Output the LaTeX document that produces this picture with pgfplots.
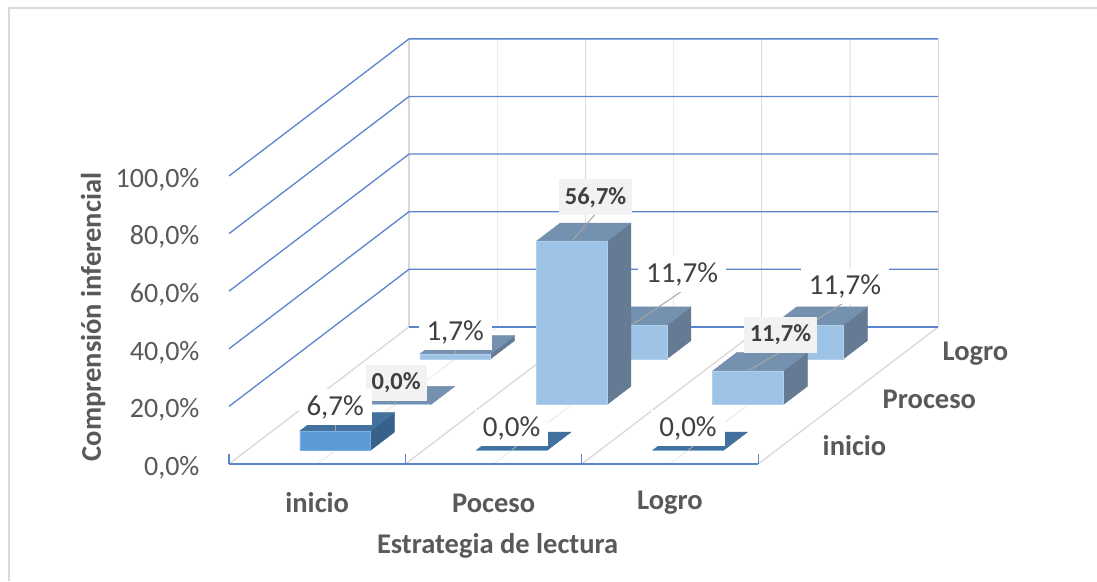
\documentclass[border=0pt]{standalone}
\usepackage{pgfplots}
\pgfplotsset{compat=1.18}
\usepackage{fontspec}
\setmainfont{Carlito}
\definecolor{frontA}{HTML}{5B9BD5}
\definecolor{topA}{HTML}{41719C}
\definecolor{sideA}{HTML}{38618A}
\definecolor{frontB}{HTML}{9DC3E6}
\definecolor{topB}{HTML}{7591B0}
\definecolor{sideB}{HTML}{647B93}
\definecolor{gridblue}{HTML}{5B84CE}
\definecolor{floorgrey}{HTML}{D9D9D9}
\definecolor{faintgrey}{HTML}{EDEDED}
\definecolor{txt}{HTML}{595959}
\definecolor{lab}{HTML}{404040}
\definecolor{leader}{HTML}{A6A6A6}
\definecolor{boxgrey}{HTML}{F2F2F2}
\newcommand{\fnt}{\fontsize{28}{33}\selectfont}
\newcommand{\lfnt}{\fontsize{29}{33}\selectfont}
\newcommand{\bfnt}{\fontsize{28.5}{33}\selectfont\bfseries}
\newcommand{\dfnt}{\fontsize{24.5}{29}\selectfont\bfseries}
% one 3D bar: column x, row y, value v, colours front/top/side
\newcommand{\bbar}[6]{%
  \pgfmathsetmacro{\xa}{#1+0.3}\pgfmathsetmacro{\xb}{#1+0.7}%
  \pgfmathsetmacro{\ya}{#2+0.3}\pgfmathsetmacro{\yb}{#2+0.7}%
  \edef\temp{\noexpand\addplot3[fill=#6,draw=#6,line width=0.5pt,forget plot] coordinates {(\xb,\ya,0)(\xb,\yb,0)(\xb,\yb,#3)(\xb,\ya,#3)(\xb,\ya,0)};
  \noexpand\addplot3[fill=#5,draw=#5,line width=0.5pt,forget plot] coordinates {(\xa,\ya,#3)(\xb,\ya,#3)(\xb,\yb,#3)(\xa,\yb,#3)(\xa,\ya,#3)};
  \noexpand\addplot3[fill=#4,draw=#4!80!white,line width=0.5pt,forget plot] coordinates {(\xa,\ya,0)(\xb,\ya,0)(\xb,\ya,#3)(\xa,\ya,#3)(\xa,\ya,0)};}%
  \temp}
% data label: column, row, value, label shift right/up, leader right/up, text
\newcommand{\blab}[8]{%
  \draw[leader,line width=1pt] (axis cs:{#1+0.5},{#2+0.3},#3) -- ++(#6pt,#7pt);
  \node[fill=white,text=lab,inner xsep=8pt,inner ysep=0pt,minimum height=36pt,font=\lfnt] at ([shift={(#4pt,#5pt)}]axis cs:{#1+0.5},{#2+0.3},#3) {#8};}
\newcommand{\blabb}[8]{%
  \draw[leader,line width=1pt] (axis cs:{#1+0.5},{#2+0.3},#3) -- ++(#6pt,#7pt);
  \node[fill=boxgrey,text=lab,inner xsep=6pt,inner ysep=0pt,minimum height=36pt,font=\dfnt] at ([shift={(#4pt,#5pt)}]axis cs:{#1+0.5},{#2+0.3},#3) {#8};}
\begin{document}
\begin{tikzpicture}[x=1pt,y=1pt]
\useasboundingbox (0,0) rectangle (1097,581);
\fill[white] (0,0) rectangle (1097,581);
\draw[floorgrey,line width=1.8pt] (9,0) -- (9,573) -- (1097,573);
\begin{axis}[
  at={(229pt,117pt)}, anchor=origin,
  x={(176.4pt,0pt)}, y={(60pt,45.7pt)}, z={(0pt,2.88pt)},
  xmin=0,xmax=3,ymin=0,ymax=3,zmin=0,zmax=100,
  clip=false,
  axis line style={draw=none},
  major tick style={draw=none},
  xtick={0.5,1.5,2.5},
  xticklabels={inicio,Poceso,Logro},
  ytick={0.5,1.5,2.5},
  yticklabels={inicio,Proceso,Logro},
  ztick={0,20,40,60,80,100},
  zticklabels={{0,0\%},{20,0\%},{40,0\%},{60,0\%},{80,0\%},{100,0\%}},
  xticklabel style={font=\bfnt,text=txt,anchor=center,yshift=-39pt},
  yticklabel style={font=\bfnt,text=txt,anchor=west,xshift=31pt,yshift=-4pt},
  zticklabel style={font=\fnt,text=txt,anchor=east,xshift=-26pt,yshift=-3.5pt},
  xlabel={Estrategia de lectura},
  zlabel={Comprensión inferencial},
  xlabel style={font=\bfnt,text=txt,at={(axis cs:1.5,0,0)},anchor=center,yshift=-82pt,xshift=4pt},
  zlabel style={font=\bfnt,text=txt,at={(axis cs:0,0,50)},anchor=center,xshift=3pt,yshift=136pt},
]
% back wall and left wall grid
\addplot3[faintgrey,line width=1.2pt,forget plot] coordinates {(0.5,3,0)(0.5,3,100)};
\addplot3[faintgrey,line width=1.2pt,forget plot] coordinates {(1.5,3,0)(1.5,3,100)};
\addplot3[faintgrey,line width=1.2pt,forget plot] coordinates {(2.5,3,0)(2.5,3,100)};
\addplot3[floorgrey,line width=1.3pt,forget plot] coordinates {(0,3,0)(0,3,100)};
\addplot3[floorgrey,line width=1.3pt,forget plot] coordinates {(1,3,0)(1,3,100)};
\addplot3[floorgrey,line width=1.3pt,forget plot] coordinates {(2,3,0)(2,3,100)};
\addplot3[floorgrey,line width=1.3pt,forget plot] coordinates {(3,3,0)(3,3,100)};
% floor
\addplot3[faintgrey,line width=1.2pt,forget plot] coordinates {(0.5,0,0)(0.5,3,0)};
\addplot3[faintgrey,line width=1.2pt,forget plot] coordinates {(1.5,0,0)(1.5,3,0)};
\addplot3[faintgrey,line width=1.2pt,forget plot] coordinates {(2.5,0,0)(2.5,3,0)};
\addplot3[floorgrey,line width=1.3pt,forget plot] coordinates {(0,0,0)(0,3,0)};
\addplot3[floorgrey,line width=1.3pt,forget plot] coordinates {(1,0,0)(1,3,0)};
\addplot3[floorgrey,line width=1.3pt,forget plot] coordinates {(2,0,0)(2,3,0)};
\addplot3[floorgrey,line width=1.3pt,forget plot] coordinates {(3,0,0)(3,3,0)};
% blue grid lines
\addplot3[gridblue,line width=1.3pt,forget plot] coordinates {(0,0,20)(0,3,20)(3,3,20)};
\addplot3[gridblue,line width=1.3pt,forget plot] coordinates {(0,0,40)(0,3,40)(3,3,40)};
\addplot3[gridblue,line width=1.3pt,forget plot] coordinates {(0,0,60)(0,3,60)(3,3,60)};
\addplot3[gridblue,line width=1.3pt,forget plot] coordinates {(0,0,80)(0,3,80)(3,3,80)};
\addplot3[gridblue,line width=1.3pt,forget plot] coordinates {(0,0,100)(0,3,100)(3,3,100)};
\addplot3[gridblue,line width=1.3pt,forget plot] coordinates {(0,3,0)(3,3,0)};
% front axis with ticks
\addplot3[gridblue,line width=1.3pt,forget plot] coordinates {(0,0,0)(3,0,0)};
\addplot3[gridblue,line width=1.3pt,forget plot] coordinates {(0,0,0)(0,0,3.5)};
\addplot3[gridblue,line width=1.3pt,forget plot] coordinates {(1,0,0)(1,0,3.5)};
\addplot3[gridblue,line width=1.3pt,forget plot] coordinates {(2,0,0)(2,0,3.5)};
\addplot3[gridblue,line width=1.3pt,forget plot] coordinates {(3,0,0)(3,0,3.5)};
% series Logro (back row)
\bbar{0}{2}{1.7}{frontB}{topB}{sideB}
\bbar{1}{2}{11.7}{frontB}{topB}{sideB}
\bbar{2}{2}{11.7}{frontB}{topB}{sideB}
% series Proceso (middle row)
\bbar{0}{1}{0.0}{frontB}{topB}{sideB}
\bbar{1}{1}{56.7}{frontB}{topB}{sideB}
\bbar{2}{1}{11.7}{frontB}{topB}{sideB}
% series inicio (front row)
\bbar{0}{0}{6.7}{frontA}{topA}{sideA}
\bbar{1}{0}{0.0}{frontA}{topA}{sideA}
\bbar{2}{0}{0.0}{frontA}{topA}{sideA}
% data labels
\blab{0}{2}{1.7}{0}{22}{0}{8}{1,7\%}
\blab{1}{2}{11.7}{50.5}{51}{51}{34.5}{11,7\%}
\blab{2}{2}{11.7}{37}{39}{35}{22}{11,7\%}
\blabb{0}{1}{0.0}{1}{22}{0}{8}{0,0\%}
\blabb{1}{1}{56.7}{24}{44}{23.5}{27}{56,7\%}
\blabb{2}{1}{11.7}{32.5}{36}{31}{18}{11,7\%}
\blab{0}{0}{6.7}{0}{23.5}{0}{8}{6,7\%}
\blab{1}{0}{0.0}{0}{22}{12}{10}{0,0\%}
\blab{2}{0}{0.0}{0}{22}{12}{10}{0,0\%}
\end{axis}
\end{tikzpicture}
\end{document}
